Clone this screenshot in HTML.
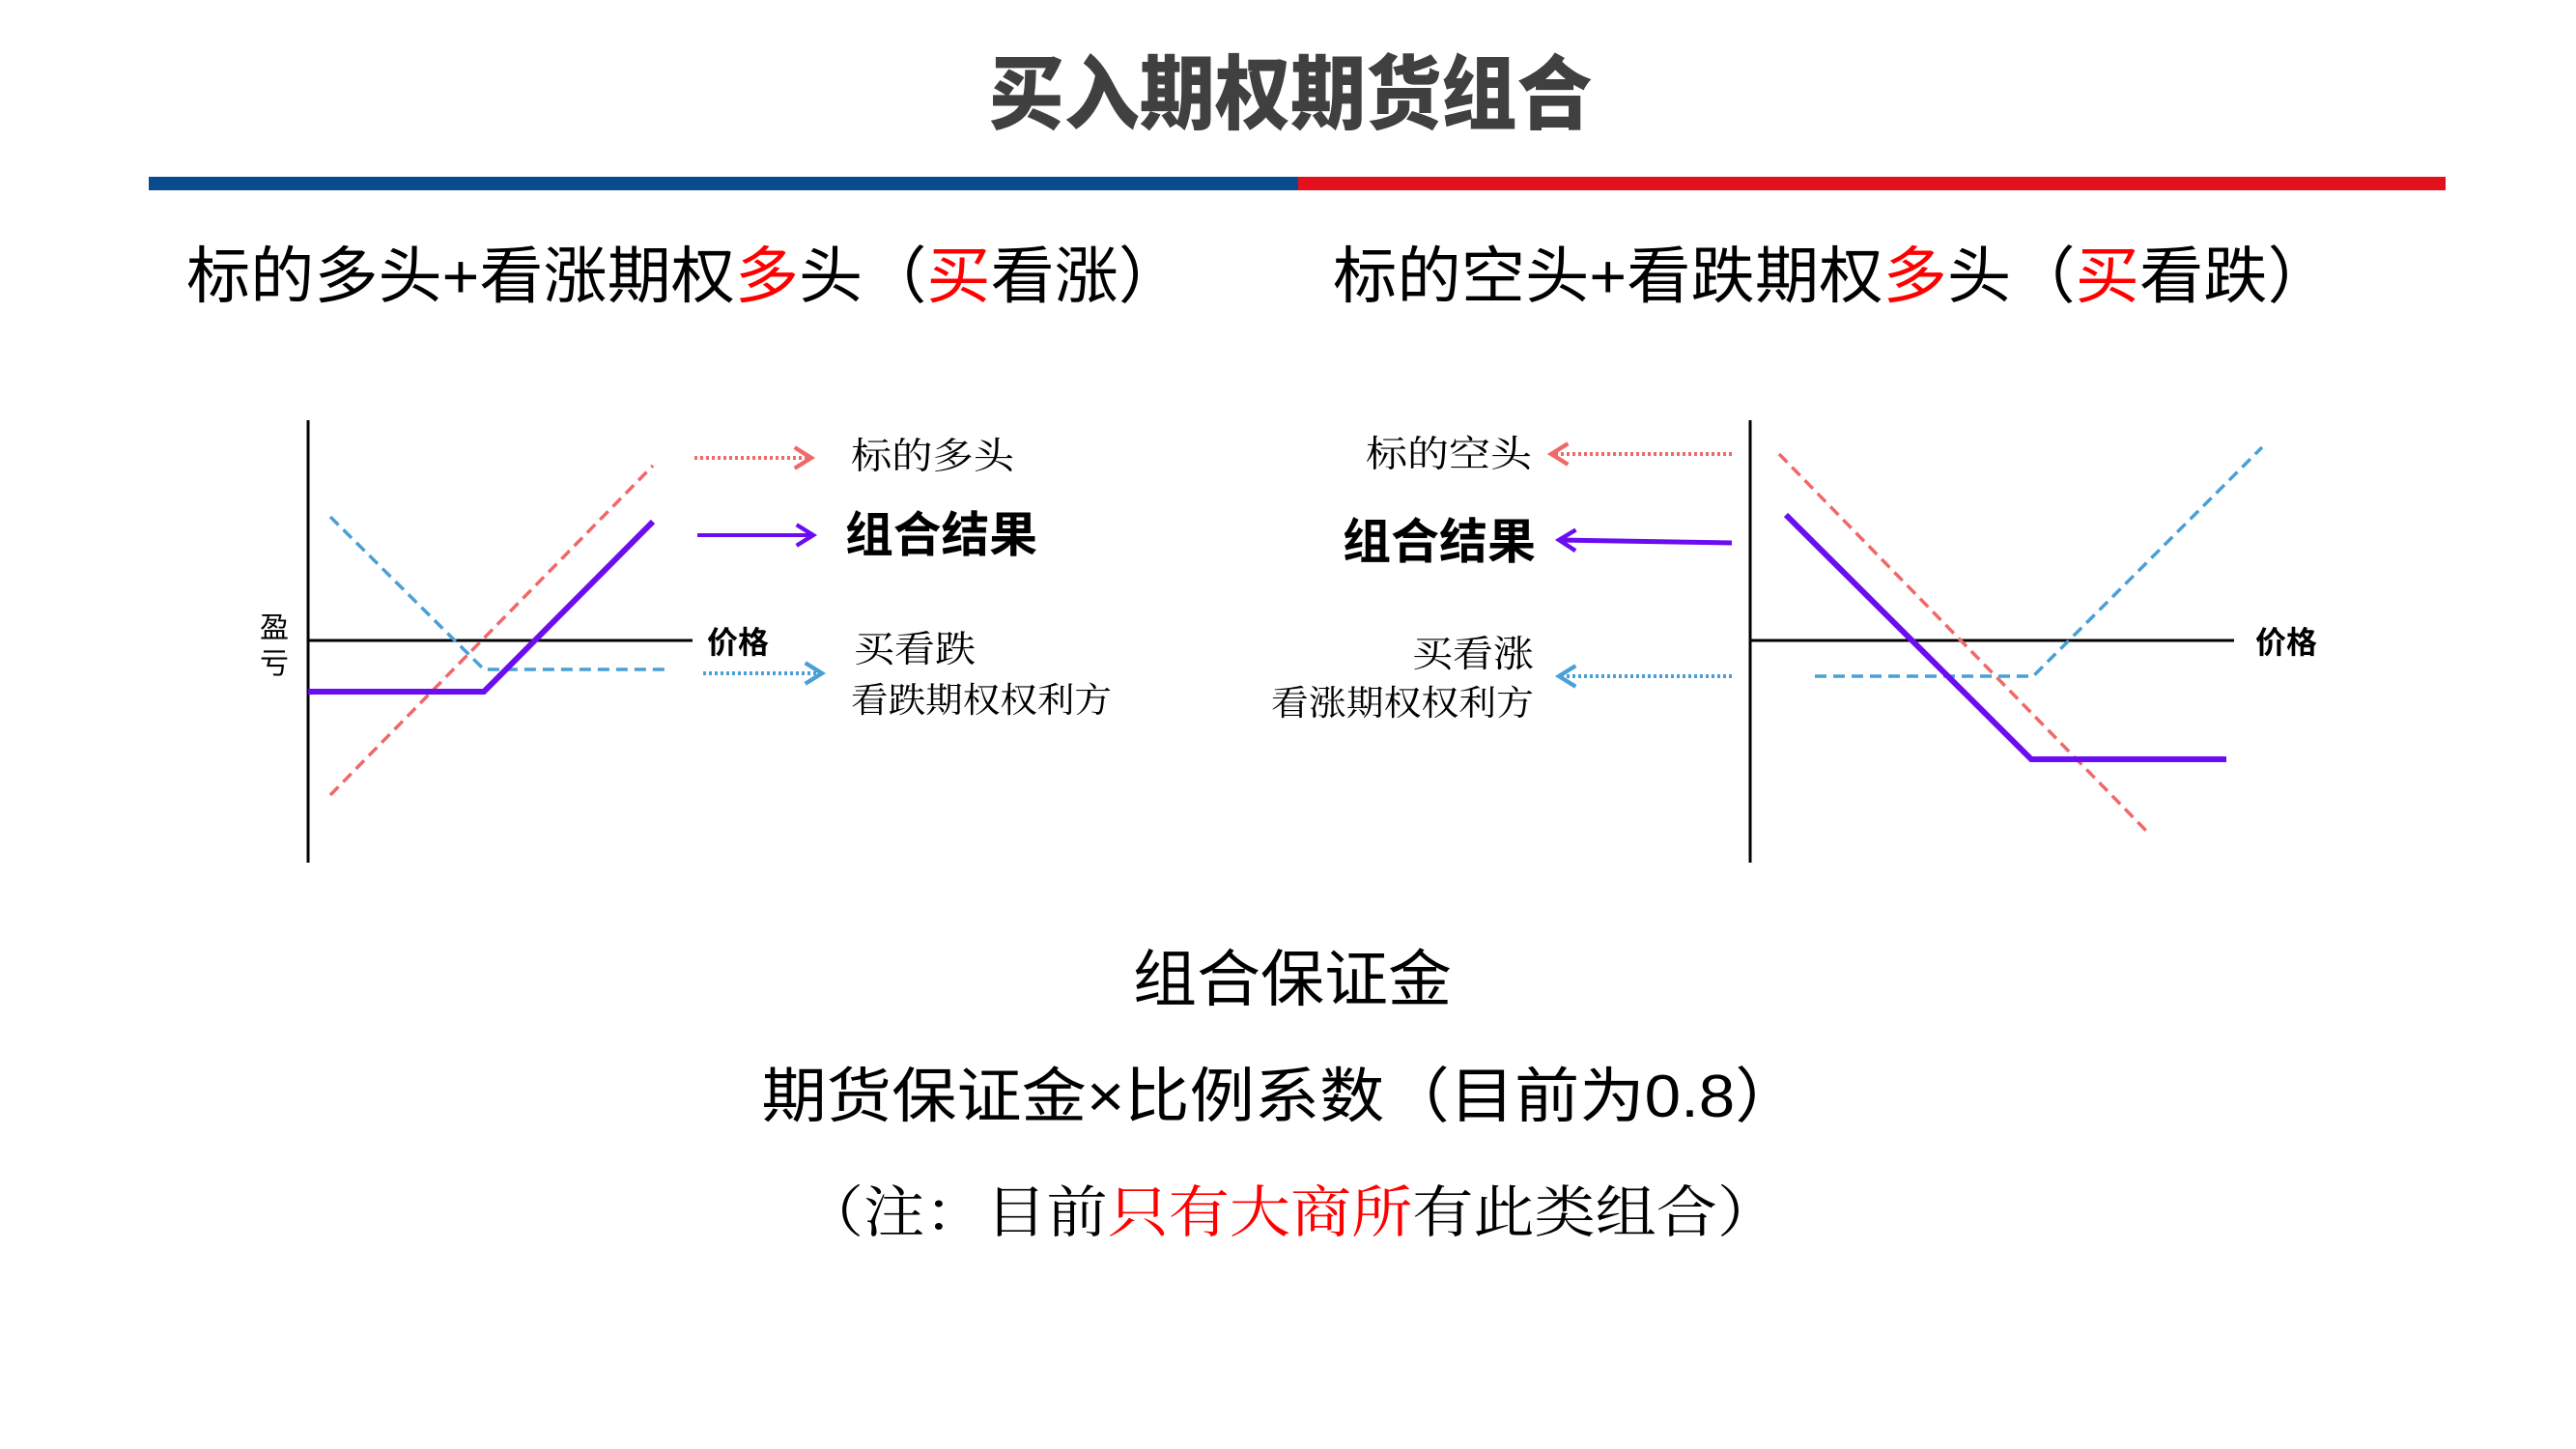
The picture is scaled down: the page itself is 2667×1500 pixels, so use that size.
<!DOCTYPE html>
<html><head><meta charset="utf-8"><style>
html,body{margin:0;padding:0;background:#fff;}
svg{display:block;}
text{font-family:"Liberation Sans","Noto Sans CJK SC",sans-serif;}
.serif{font-family:"Liberation Serif","Noto Serif CJK SC",serif;}
</style></head><body>
<svg width="2667" height="1500" viewBox="0 0 2667 1500" xmlns="http://www.w3.org/2000/svg">
<defs>
<marker id="arR" viewBox="0 0 12 12" refX="10" refY="6" markerWidth="26" markerHeight="26" orient="auto" markerUnits="userSpaceOnUse"><path d="M2 1 L10 6 L2 11" fill="none" stroke="#f06868" stroke-width="2"/></marker>
<marker id="arP" viewBox="0 0 12 12" refX="10" refY="6" markerWidth="26" markerHeight="26" orient="auto" markerUnits="userSpaceOnUse"><path d="M2 1 L10 6 L2 11" fill="none" stroke="#6a0df0" stroke-width="2"/></marker>
<marker id="arB" viewBox="0 0 12 12" refX="10" refY="6" markerWidth="26" markerHeight="26" orient="auto" markerUnits="userSpaceOnUse"><path d="M2 1 L10 6 L2 11" fill="none" stroke="#4a9fd6" stroke-width="2"/></marker>
</defs>
<!-- title -->
<text x="1336" y="127" font-size="84" font-weight="900" fill="#404040" text-anchor="middle" textLength="625" lengthAdjust="spacingAndGlyphs">买入期权期货组合</text>
<rect x="154" y="183" width="1190" height="14" fill="#0a4a8f"/>
<rect x="1344" y="183" width="1188" height="14" fill="#e3101e"/>
<!-- subheadings -->
<text x="193" y="308" font-size="64" fill="#000" textLength="1031" lengthAdjust="spacingAndGlyphs">标的多头+看涨期权<tspan fill="#ff0000">多</tspan>头（<tspan fill="#ff0000">买</tspan>看涨）</text>
<text x="1380" y="308" font-size="64" fill="#000" textLength="1034" lengthAdjust="spacingAndGlyphs">标的空头+看跌期权<tspan fill="#ff0000">多</tspan>头（<tspan fill="#ff0000">买</tspan>看跌）</text>

<!-- left chart -->
<line x1="319" y1="435" x2="319" y2="893" stroke="#000" stroke-width="3"/>
<line x1="319" y1="663" x2="717" y2="663" stroke="#000" stroke-width="3"/>
<text x="284" y="660" font-size="30" text-anchor="middle">盈</text>
<text x="284" y="697" font-size="30" text-anchor="middle">亏</text>
<text x="732" y="676" font-size="32" font-weight="bold">价格</text>
<polyline points="342,823 676,482" fill="none" stroke="#f06868" stroke-width="3.5" stroke-dasharray="12,7"/>
<polyline points="342,535 501,693 694,693" fill="none" stroke="#4a9fd6" stroke-width="3.5" stroke-dasharray="12,7"/>
<polyline points="319,716 501,716 676,540" fill="none" stroke="#6a0df0" stroke-width="6"/>
<line x1="719" y1="474" x2="840" y2="474" stroke="#f06868" stroke-width="4" stroke-dasharray="3,3" marker-end="url(#arR)"/>
<line x1="722" y1="554" x2="842" y2="554" stroke="#6a0df0" stroke-width="4" marker-end="url(#arP)"/>
<line x1="728" y1="697" x2="851" y2="697" stroke="#4a9fd6" stroke-width="4" stroke-dasharray="3,3" marker-end="url(#arB)"/>
<text class="serif" x="881" y="485" font-size="38" textLength="169" lengthAdjust="spacingAndGlyphs">标的多头</text>
<text x="875" y="571" font-size="50" font-weight="bold" textLength="199" lengthAdjust="spacingAndGlyphs">组合结果</text>
<text class="serif" x="884" y="685" font-size="38" textLength="126" lengthAdjust="spacingAndGlyphs">买看跌</text>
<text class="serif" x="881" y="737" font-size="36" textLength="270" lengthAdjust="spacingAndGlyphs">看跌期权权利方</text>

<!-- right chart -->
<line x1="1812" y1="435" x2="1812" y2="893" stroke="#000" stroke-width="3"/>
<line x1="1812" y1="663" x2="2313" y2="663" stroke="#000" stroke-width="3"/>
<text x="2335" y="676" font-size="32" font-weight="bold">价格</text>
<polyline points="1842,470 2224,862" fill="none" stroke="#f06868" stroke-width="3.5" stroke-dasharray="12,7"/>
<polyline points="1879,700 2105,700 2342,463" fill="none" stroke="#4a9fd6" stroke-width="3.5" stroke-dasharray="12,7"/>
<polyline points="1849,533 2103,786 2305,786" fill="none" stroke="#6a0df0" stroke-width="6"/>
<line x1="1793" y1="470" x2="1606" y2="470" stroke="#f06868" stroke-width="4" stroke-dasharray="3,3" marker-end="url(#arR)"/>
<line x1="1793" y1="562" x2="1614" y2="559" stroke="#6a0df0" stroke-width="5" marker-end="url(#arP)"/>
<line x1="1793" y1="700" x2="1614" y2="700" stroke="#4a9fd6" stroke-width="4" stroke-dasharray="3,3" marker-end="url(#arB)"/>
<text class="serif" x="1586" y="483" font-size="38" text-anchor="end" textLength="172" lengthAdjust="spacingAndGlyphs">标的空头</text>
<text x="1590" y="578" font-size="50" font-weight="bold" text-anchor="end" textLength="200" lengthAdjust="spacingAndGlyphs">组合结果</text>
<text class="serif" x="1588" y="690" font-size="38" text-anchor="end" textLength="126" lengthAdjust="spacingAndGlyphs">买看涨</text>
<text class="serif" x="1588" y="740" font-size="36" text-anchor="end" textLength="272" lengthAdjust="spacingAndGlyphs">看涨期权权利方</text>

<!-- bottom text -->
<text x="1338" y="1036" font-size="64" text-anchor="middle" textLength="330" lengthAdjust="spacingAndGlyphs">组合保证金</text>
<text x="1326" y="1156" font-size="62" text-anchor="middle" textLength="1075" lengthAdjust="spacingAndGlyphs">期货保证金×比例系数（目前为0.8）</text>
<text class="serif" x="1336" y="1275" font-size="58" text-anchor="middle" textLength="1010" lengthAdjust="spacingAndGlyphs">（注：目前<tspan fill="#ff0000">只有大商所</tspan>有此类组合）</text>
</svg>
</body></html>
